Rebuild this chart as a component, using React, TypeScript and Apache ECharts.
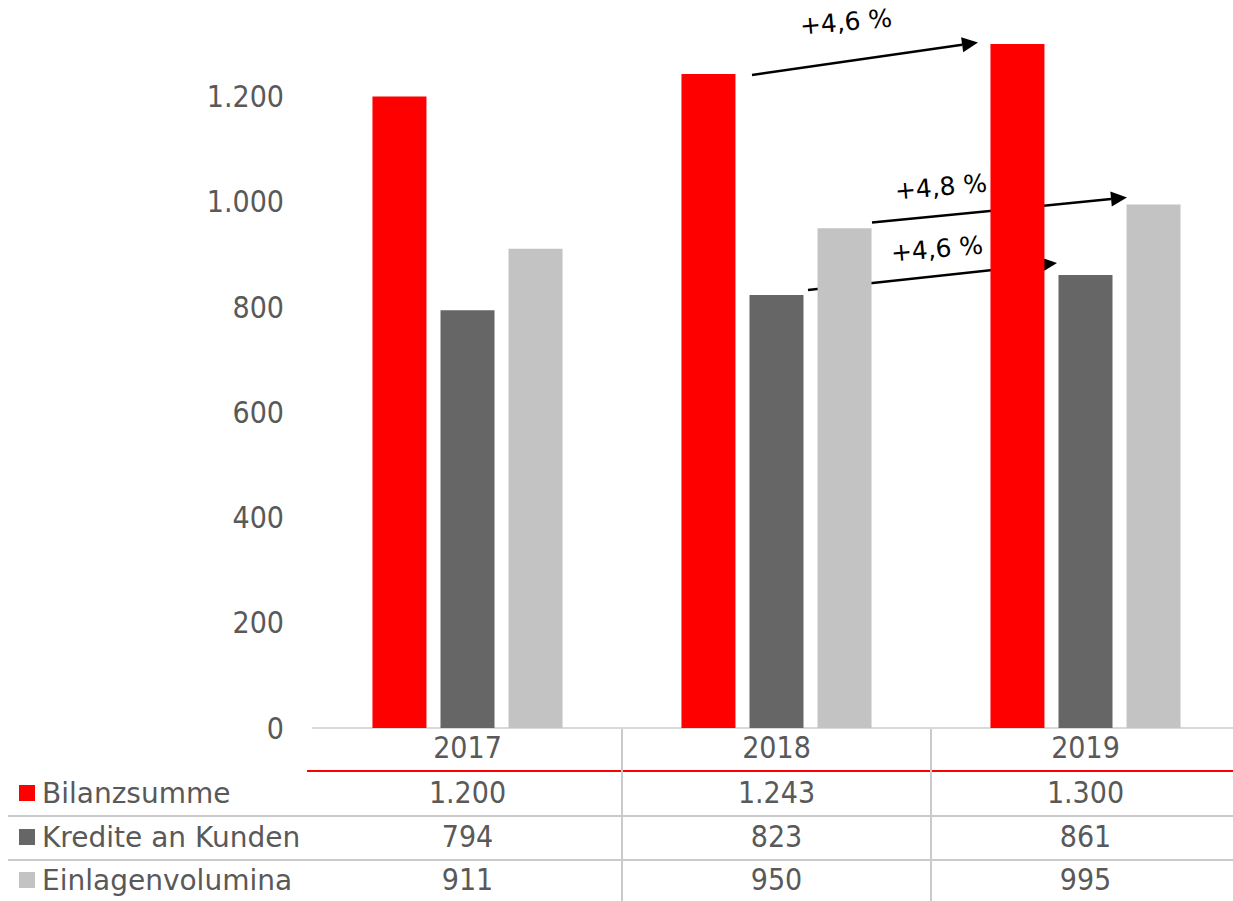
import React, { useEffect, useRef } from "react";
import * as echarts from "echarts";

const years = ["2017", "2018", "2019"];
const seriesNames = ["Bilanzsumme", "Kredite an Kunden", "Einlagenvolumina"];
const bilanzsumme = [1200, 1243, 1300];
const kredite = [794, 823, 861];
const einlagen = [911, 950, 995];
const seriesColors = ["#ff0000", "#666666", "#c3c3c3"];
const growthLabels = ["+4,6 %", "+4,8 %", "+4,6 %"];
const Y_MAX = 1300;
const Y_STEP = 200;

const W = 1233;
const H = 901;
const CHART_W = 1240;
const GRID_LEFT = 313;
const GRID_RIGHT = 0;
const GRID_TOP = 44;
const GRID_BOTTOM = 173;
const NUM_FONT = "'DejaVu Sans Condensed', 'DejaVu Sans', sans-serif";
const LABEL_FONT = "'DejaVu Sans', sans-serif";
const TEXT = "#595959";

const fmt = (v: number) => String(v).replace(/\B(?=(\d{3})+(?!\d))/g, ".");

function arrow(x1: number, y1: number, x2: number, y2: number) {
  const ang = Math.atan2(y2 - y1, x2 - x1);
  const L = 16;
  const hw = 7.5;
  const bx = x2 - L * Math.cos(ang);
  const by = y2 - L * Math.sin(ang);
  const px = -Math.sin(ang);
  const py = Math.cos(ang);
  return [
    {
      type: "line",
      shape: { x1, y1, x2: bx, y2: by },
      style: { stroke: "#000", lineWidth: 2.5 },
    },
    {
      type: "polygon",
      shape: {
        points: [
          [x2, y2],
          [bx + px * hw, by + py * hw],
          [bx - px * hw, by - py * hw],
        ],
      },
      style: { fill: "#000" },
    },
  ];
}

export default function App() {
  const ref = useRef<HTMLDivElement>(null);
  useEffect(() => {
    if (!ref.current) return;
    const chart = echarts.init(ref.current, null, { renderer: "svg" });
    const values = [bilanzsumme, kredite, einlagen];
    const rowCenters = [793, 837, 880];
    const offsets = [45, 89, 132];
    const axisBottomY = H - GRID_BOTTOM;
    const catW = (CHART_W - GRID_LEFT - GRID_RIGHT) / years.length;

    const graphic: any[] = [];
    graphic.push({
      type: "line",
      shape: { x1: 307, y1: 771, x2: W, y2: 771 },
      style: { stroke: "#ff0000", lineWidth: 2 },
    });
    [816, 860].forEach((y) =>
      graphic.push({
        type: "line",
        shape: { x1: 8, y1: y, x2: W, y2: y },
        style: { stroke: "#cacaca", lineWidth: 2 },
      })
    );
    for (let k = 1; k < years.length; k++) {
      const x = GRID_LEFT + k * catW;
      graphic.push({
        type: "line",
        shape: { x1: x, y1: axisBottomY, x2: x, y2: H },
        style: { stroke: "#cacaca", lineWidth: 2 },
      });
    }
    seriesNames.forEach((name, i) => {
      graphic.push({
        type: "rect",
        shape: { x: 19, y: rowCenters[i] - 8, width: 16, height: 16 },
        style: { fill: seriesColors[i] },
      });
      graphic.push({
        type: "text",
        x: 42,
        y: rowCenters[i],
        style: {
          text: name,
          fill: TEXT,
          font: `28px ${LABEL_FONT}`,
          verticalAlign: "middle",
        },
      });
    });
    graphic.push(...arrow(752, 75, 978, 42.5));
    graphic.push(...arrow(872, 222.5, 1127, 197.5));
    graphic.push(...arrow(808, 290, 1057, 263));
    const labelPos = [
      [846, 22],
      [941, 187],
      [937, 249],
    ];
    growthLabels.forEach((t, i) =>
      graphic.push({
        type: "text",
        x: labelPos[i][0],
        y: labelPos[i][1],
        rotation: (5 * Math.PI) / 180,
        style: {
          text: t,
          fill: "#000",
          font: `25px 'DejaVu Sans', sans-serif`,
          align: "center",
          verticalAlign: "middle",
        },
      })
    );

    const labelStyle = {
      fontSize: 30,
      color: TEXT,
      fontFamily: NUM_FONT,
      margin: 4,
    };

    chart.setOption({
      animation: false,
      grid: {
        left: GRID_LEFT,
        right: GRID_RIGHT,
        top: GRID_TOP,
        bottom: GRID_BOTTOM,
        containLabel: false,
      },
      xAxis: [
        {
          type: "category",
          data: years,
          position: "bottom",
          axisLine: { lineStyle: { color: "#d9d9d9", width: 2 } },
          axisTick: { show: false },
          axisLabel: labelStyle,
        },
        ...values.map((vals, i) => ({
          type: "category",
          data: vals.map(fmt),
          position: "bottom",
          offset: offsets[i],
          axisLine: { show: false },
          axisTick: { show: false },
          axisLabel: labelStyle,
        })),
      ],
      yAxis: {
        type: "value",
        min: 0,
        max: Y_MAX,
        interval: Y_STEP,
        axisLine: { show: false },
        axisTick: { show: false },
        splitLine: { show: false },
        axisLabel: {
          fontSize: 30,
          color: TEXT,
          fontFamily: NUM_FONT,
          margin: 29,
          showMaxLabel: false,
          formatter: (v: number) => (v % Y_STEP !== 0 ? "" : fmt(v)),
        },
      },
      series: values.map((vals, i) => ({
        name: seriesNames[i],
        type: "bar",
        xAxisIndex: 0,
        data: vals,
        barWidth: 54,
        barGap: "26%",
        itemStyle: { color: seriesColors[i] },
      })),
      graphic,
    });
    return () => chart.dispose();
  }, []);
  return (
    <div
      ref={ref}
      style={{ position: "fixed", left: 0, top: 0, width: CHART_W, height: H, background: "#fff" }}
    />
  );
}
